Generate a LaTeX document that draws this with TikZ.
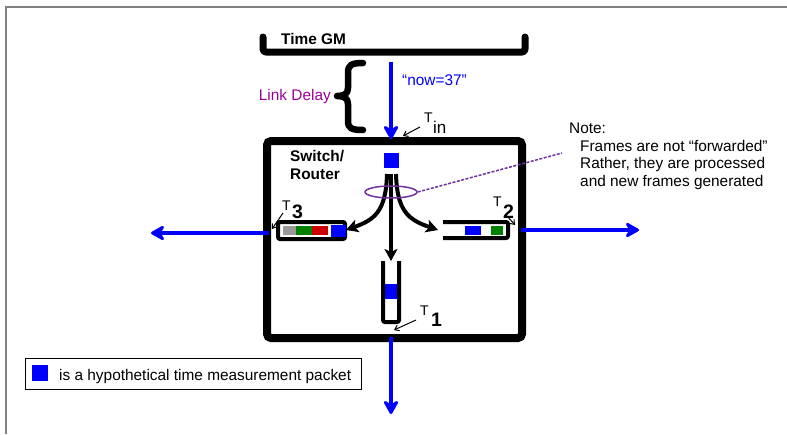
\documentclass[tikz,border=0pt]{standalone}
\usepackage{fontspec}
\setmainfont{Liberation Sans}
\usetikzlibrary{arrows.meta,shapes.geometric}
\definecolor{pktblue}{RGB}{0,0,255}
\definecolor{linkpurple}{RGB}{153,0,153}
\definecolor{notepurple}{RGB}{112,48,160}
\definecolor{cellgreen}{RGB}{0,128,0}
\definecolor{cellred}{RGB}{204,0,0}
\definecolor{cellgrey}{RGB}{153,153,153}
\tikzset{
  txt/.style={inner sep=0pt, font=\fontsize{15.4}{18.5}\selectfont},
  boldtxt/.style={txt, font=\fontsize{15.4}{18.5}\selectfont\bfseries},
  tsmall/.style={inner sep=0pt, font=\fontsize{14}{16}\selectfont},
  tsub/.style={inner sep=0pt, font=\fontsize{19.5}{22}\selectfont\bfseries},
  tsubin/.style={inner sep=0pt, font=\fontsize{17}{20}\selectfont},
  bluearrow/.style={draw=pktblue, line width=4pt, -{Stealth[length=17pt,width=19pt,inset=6pt,round]}},
  flowarrow/.style={draw=black, line width=4pt, -{Stealth[length=12pt,width=13pt,inset=3pt]}},
  tarrow/.style={draw=black, line width=1pt, -{Straight Barb[length=4pt,width=6pt]}},
  buffer/.style={draw=black, line width=4pt, rounded corners=2pt},
}
\begin{document}
\begin{tikzpicture}[x=1pt,y=-1pt]
\useasboundingbox (0,0) rectangle (787,434);
% outer frame
\draw[gray, line width=2pt] (6,434) -- (6,7) -- (787,7);

% Time GM bar
\draw[line width=7pt, line cap=round, line join=round, rounded corners=3pt]
  (263,37) -- (263,52) -- (525,52) -- (525,37);
\node[boldtxt, anchor=west] (timegm) at (281,39) {Time GM};

% link delay brace
\draw[line width=6.5pt, line cap=round, line join=round]
  (363,63) .. controls (351,63) and (348,65) .. (348,73) -- (348,88)
  .. controls (348,94) and (344,96) .. (337,96)
  .. controls (344,96) and (348,98) .. (348,104) -- (348,121)
  .. controls (348,128) and (351,130) .. (363,130);
\node[txt, text=linkpurple, anchor=east] (linkdelay) at (331,97) {Link Delay};

% switch box
\draw[line width=8pt, rounded corners=4pt] (267,141) rectangle (522,338);
\node[boldtxt, anchor=north west, align=left] (switch) at (290,150) {Switch/\\Router};

% incoming arrow
\coordinate (gmout) at (391,62);
\coordinate (swin) at (391,139);
\draw[bluearrow] (gmout) -- (swin);
\node[txt, text=pktblue, anchor=west] (now) at (402,80) {“now=37”};

% packet
\node[fill=pktblue, minimum size=15pt, inner sep=0pt] (pkt) at (391,160) {};

% T_in
\node[tsmall, anchor=base west] (tin) at (424,122) {T};
\node[tsubin, anchor=west] (tinsub) at (433,127) {in};
\coordinate (tinfrom) at (420,127);
\coordinate (tinto) at (403,136);
\draw[tarrow] (tinfrom) -- (tinto);

% flow arrows
\coordinate (s1) at (387,174);
\coordinate (s2) at (391,174);
\coordinate (s3) at (396,174);
\coordinate (lefttip) at (346,230);
\coordinate (righttip) at (438,230);
\coordinate (downtip) at (391,261);
\draw[flowarrow] (s1) .. controls (386,212) and (374,220) .. (lefttip);
\draw[flowarrow] (s3) .. controls (397,212) and (409,220) .. (righttip);
\draw[flowarrow] (s2) -- (downtip);

% ellipse and note line
\node[draw=notepurple, line width=1.5pt, ellipse, minimum width=52pt, minimum height=12pt, inner sep=0pt] (ell) at (391,192) {};
\coordinate (noteend) at (562,153);
\draw[notepurple, line width=1.5pt, dash pattern=on 3pt off 1.5pt] (ell.east) -- (noteend);

% note text
\node[txt, anchor=west] (note) at (569,128) {Note:};
\node[txt, anchor=west] (n1) at (580,146) {Frames are not “forwarded”};
\node[txt, anchor=west] (n2) at (580,164.5) {Rather, they are processed};
\node[txt, anchor=west] (n3) at (580,183) {and new frames generated};

% left buffer (T3)
\fill[cellgrey] (283,226) rectangle (296,235);
\fill[cellgreen] (296,226) rectangle (312,235);
\fill[cellred] (312,226) rectangle (328,235);
\draw[buffer] (278,222) rectangle (345,239);
\fill[pktblue] (331,224.5) rectangle (346,236.5);
\coordinate (leftout) at (269,233);
\coordinate (lefttipout) at (151,233);

% right buffer (T2)
\fill[pktblue] (465,226) rectangle (481,235);
\fill[cellgreen] (491,226) rectangle (503,235);
\draw[buffer] (443,222) -- (508,222) -- (508,238) -- (443,238);
\coordinate (rightout) at (521,230);
\coordinate (righttipout) at (639,230);

% bottom buffer (T1)
\fill[pktblue] (385,284) rectangle (397,299);
\draw[buffer] (383,261) -- (383,322) -- (399,322) -- (399,261);
\coordinate (bottomout) at (391,337);
\coordinate (bottomtipout) at (391,414);

% outgoing arrows
\draw[bluearrow] (leftout) -- (lefttipout);
\draw[bluearrow] (rightout) -- (righttipout);
\draw[bluearrow] (bottomout) -- (bottomtipout);

% T3
\node[tsmall, anchor=base west] (t3) at (282,210) {T};
\node[tsub, anchor=west] (t3sub) at (292,212) {3};
\coordinate (t3from) at (283,213);
\coordinate (t3to) at (272,229);
\draw[tarrow] (t3from) -- (t3to);

% T2
\node[tsmall, anchor=base west] (t2) at (493,206) {T};
\node[tsub, anchor=west] (t2sub) at (503,212) {2};
\coordinate (t2from) at (507,216);
\coordinate (t2to) at (515,225);
\draw[tarrow] (t2from) -- (t2to);

% T1
\node[tsmall, anchor=base west] (t1) at (420,315) {T};
\node[tsub, anchor=west] (t1sub) at (431,320) {1};
\coordinate (t1from) at (416,320);
\coordinate (t1to) at (394,330);
\draw[tarrow] (t1from) -- (t1to);

% legend
\draw[line width=1pt] (25,358) rectangle (361,389);
\node[fill=pktblue, minimum size=16pt, inner sep=0pt] (legpkt) at (40,373) {};
\node[txt, anchor=west] (legtxt) at (59,377) {is a hypothetical time measurement packet};
\end{tikzpicture}
\end{document}
